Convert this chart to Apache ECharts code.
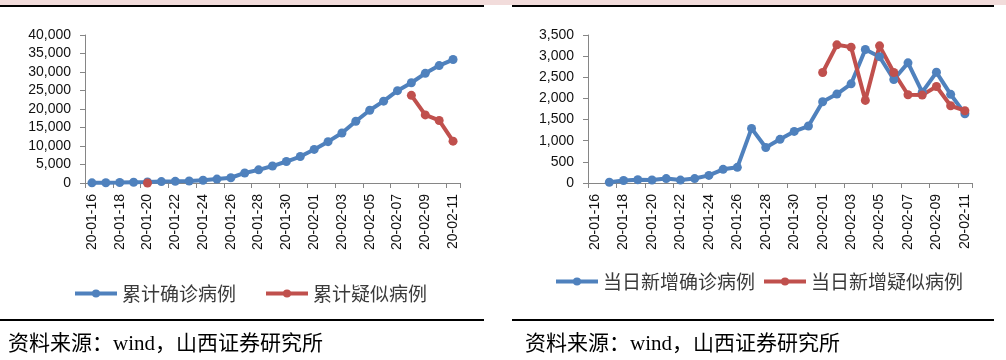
<!DOCTYPE html>
<html><head><meta charset="utf-8">
<script src="https://cdn.jsdelivr.net/npm/echarts@6/dist/echarts.min.js"></script>
<style>html,body{margin:0;padding:0;background:#fff}#c{width:1006px;height:360px}</style>
</head><body><div id="c"></div>
<script>
var dates = ['20-01-16','20-01-17','20-01-18','20-01-19','20-01-20','20-01-21','20-01-22','20-01-23','20-01-24','20-01-25','20-01-26','20-01-27','20-01-28','20-01-29','20-01-30','20-01-31','20-02-01','20-02-02','20-02-03','20-02-04','20-02-05','20-02-06','20-02-07','20-02-08','20-02-09','20-02-10','20-02-11'];
var cumConfirmed = [45,62,121,198,270,375,444,549,729,1052,1423,2714,3554,4586,5806,7153,9074,11177,13522,16678,19665,22112,24953,27100,29631,31728,33366];
var cumSuspected = [null,null,null,null,0,null,null,null,null,null,null,null,null,null,null,null,null,null,null,null,null,null,null,23700,18400,16900,11300];
var dailyConfirmed = [null,17,59,77,72,105,69,105,180,323,371,1291,840,1032,1220,1347,1921,2103,2345,3156,2987,2447,2841,2147,2618,2097,1638];
var dailySuspected = [null,null,null,null,null,null,null,null,null,null,null,null,null,null,null,null,2614,3268,3213,1953,3244,2614,2087,2079,2283,1827,1709];
var leftNames = ['累计确诊病例','累计疑似病例'];
var rightNames = ['当日新增确诊病例','当日新增疑似病例'];
var sourceText = '资料来源：wind，山西证券研究所';

var BLUE = '#4F81BD', RED = '#C0504D', AXIS = '#868686';
var numFont = 'Liberation Sans, Arial, sans-serif';
function fmt(v){ return String(v).replace(/\B(?=(\d{3})+(?!\d))/g, ','); }

function xAxis(gi){
  return {
    type:'category', gridIndex:gi, data:dates, boundaryGap:true,
    axisLine:{lineStyle:{color:AXIS,width:1}},
    axisTick:{show:true,interval:1,length:5,lineStyle:{color:AXIS}},
    axisLabel:{interval:1,rotate:90,margin:11,fontSize:14,color:'#111',fontFamily:numFont},
    splitLine:{show:false}
  };
}
function yAxis(gi,max,interval){
  return {
    type:'value', gridIndex:gi, min:0, max:max, interval:interval,
    axisLine:{show:true,lineStyle:{color:AXIS,width:1}},
    axisTick:{show:true,length:5,lineStyle:{color:AXIS}},
    axisLabel:{margin:14,fontSize:14,color:'#111',fontFamily:numFont,formatter:fmt},
    splitLine:{show:false}
  };
}
function line(name,data,color,gi){
  return {
    type:'line', name:name, data:data, xAxisIndex:gi, yAxisIndex:gi,
    symbol:'circle', symbolSize:9, showSymbol:true, connectNulls:false,
    lineStyle:{color:color,width:4}, itemStyle:{color:color},
    emphasis:{disabled:true}, animation:false
  };
}
var legendText = {fontSize:19,color:'#3a3a3a',fontFamily:'Noto Sans CJK SC, sans-serif'};
function legend(names,left,top,gap){
  return {data:names, left:left, top:top, padding:0, itemWidth:42, itemHeight:10, itemGap:gap,
    lineStyle:{width:4}, textStyle:legendText};
}

var chart = echarts.init(document.getElementById('c'), null, {renderer:'canvas'});
chart.setOption({
  animation:false,
  backgroundColor:'#fff',
  grid:[
    {left:85, top:35, width:375, height:148, containLabel:false},
    {left:588, top:35, width:384, height:148, containLabel:false}
  ],
  xAxis:[xAxis(0), xAxis(1)],
  yAxis:[yAxis(0,40000,5000), yAxis(1,3500,500)],
  legend:[legend(leftNames,73,284,28), legend(rightNames,554,272,7)],
  series:[
    line(leftNames[0],cumConfirmed,BLUE,0),
    line(leftNames[1],cumSuspected,RED,0),
    line(rightNames[0],dailyConfirmed,BLUE,1),
    line(rightNames[1],dailySuspected,RED,1)
  ],
  graphic:[
    {type:'rect', shape:{x:0,y:0,width:1006,height:5}, style:{fill:'#F2DCDB'}, silent:true},
    {type:'rect', shape:{x:0,y:5,width:484,height:2}, style:{fill:'#000'}, silent:true},
    {type:'rect', shape:{x:512,y:5,width:482,height:2}, style:{fill:'#000'}, silent:true},
    {type:'rect', shape:{x:0,y:319,width:484,height:2}, style:{fill:'#000'}, silent:true},
    {type:'rect', shape:{x:512,y:319,width:482,height:2}, style:{fill:'#000'}, silent:true},
    {type:'text', left:8, top:334, style:{text:sourceText, fontSize:21, fill:'#000', fontFamily:'Liberation Serif, Noto Sans CJK SC, serif'}},
    {type:'text', left:525, top:334, style:{text:sourceText, fontSize:21, fill:'#000', fontFamily:'Liberation Serif, Noto Sans CJK SC, serif'}}
  ]
});
</script></body></html>
